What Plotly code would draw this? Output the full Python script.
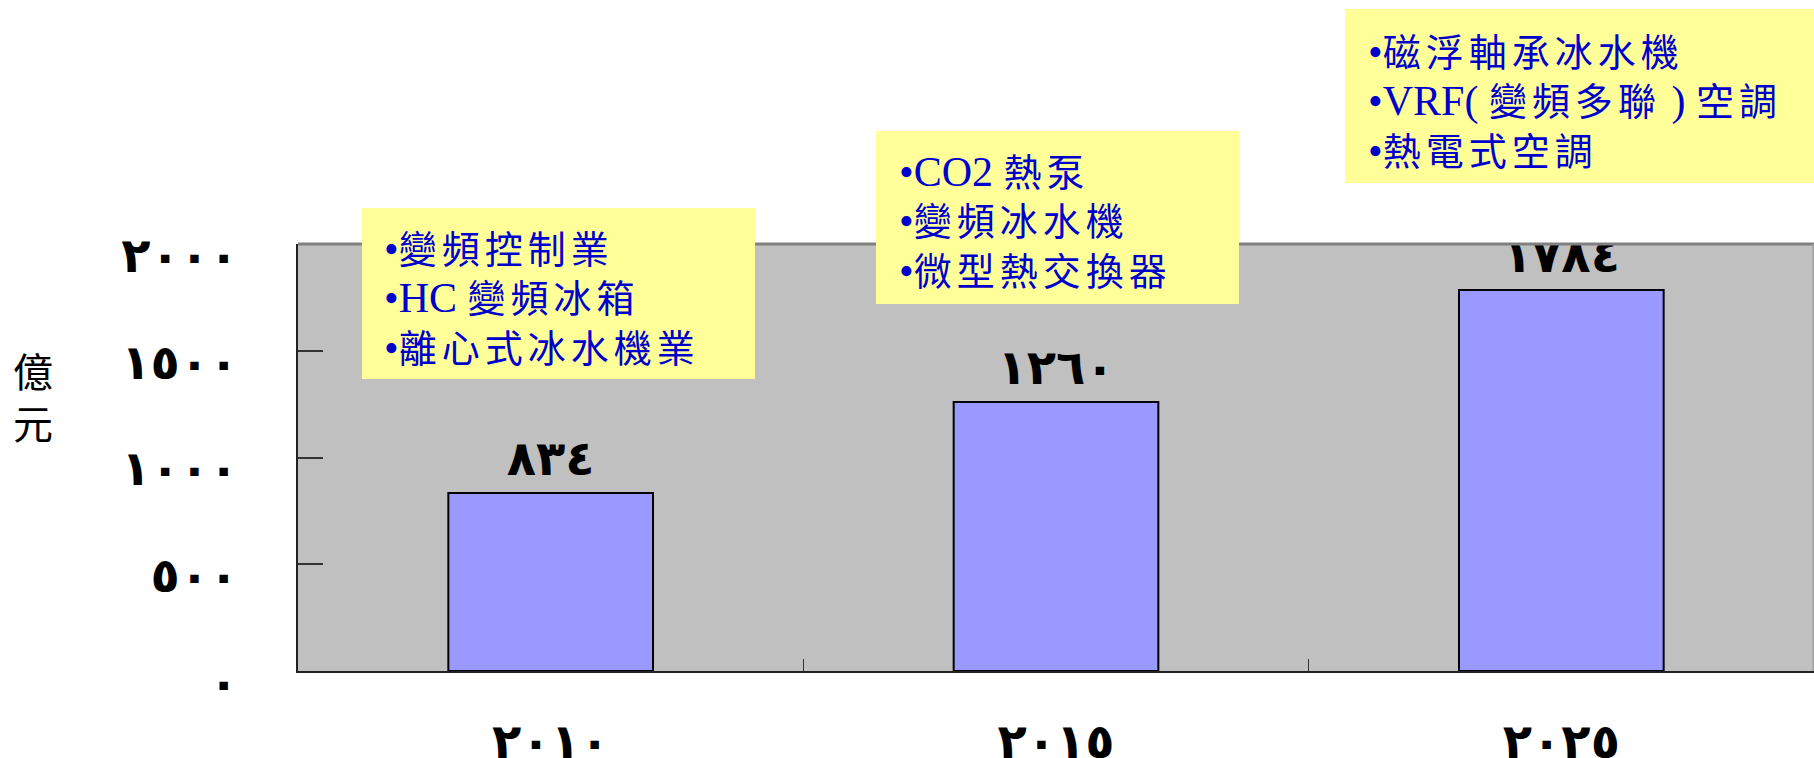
import plotly.graph_objects as go

# Market size (億元) by year, with the technologies highlighted for each period
years = ["2010", "2015", "2025"]
revenue = [834, 1260, 1784]
y_ticks = [0, 500, 1000, 1500, 2000]
notes_2010 = ["變頻控制業", "HC 變頻冰箱", "離心式冰水機業"]
notes_2015 = ["CO2 熱泵", "變頻冰水機", "微型熱交換器"]
notes_2025 = ["磁浮軸承冰水機", "VRF( 變頻多聯 ) 空調", "熱電式空調"]

W, H = 1814, 758
L, R, T, B = 298, 0, 244, 87
PW, PH = W - L - R, H - T - B

ARABIC = str.maketrans("0123456789", "٠١٢٣٤٥٦٧٨٩")


def ar(v):
    """Number written with Arabic-Indic digits."""
    return str(v).translate(ARABIC)


def fx(px):
    return (px - L) / PW


def fy(py):
    return (H - B - py) / PH


def note_line(s):
    """Bullet line: Latin runs in a larger serif, CJK runs letter-spaced."""
    s = "•" + s
    runs, cur, cur_latin = [], "", None
    for ch in s:
        latin = ord(ch) < 0x2E80
        if cur and latin != cur_latin:
            runs.append((cur, cur_latin))
            cur = ""
        cur += ch
        cur_latin = latin
    runs.append((cur, cur_latin))
    out = ""
    for txt, latin in runs:
        if latin:
            out += "<span style='font-size:42px;letter-spacing:0px'>" + txt + "</span>"
        else:
            out += "<span style='letter-spacing:5px'>" + txt + "</span>"
    return out


DIGIT_FONT = "DejaVu Sans"
DIGIT_SIZE = 48
NOTE_FONT = "Liberation Serif, 'Times New Roman', 'Noto Sans CJK TC', serif"
CJK_FONT = "'Noto Sans CJK TC', 'Noto Sans CJK SC', sans-serif"

fig = go.Figure()
fig.add_trace(go.Bar(
    x=years, y=revenue,
    marker=dict(color="#9999FF", line=dict(color="#000000", width=2)),
    hoverinfo="skip",
))
# value labels above the bars, clipped to the plotting area
fig.add_trace(go.Scatter(
    x=years, y=revenue,
    mode="markers+text",
    text=[ar(v) for v in revenue],
    textposition="top center",
    textfont=dict(family=DIGIT_FONT, size=DIGIT_SIZE, color="#000000", weight="bold"),
    marker=dict(size=8, opacity=0),
    cliponaxis=True,
    hoverinfo="skip",
))

fig.update_layout(
    width=W, height=H,
    margin=dict(l=L, r=R, t=T, b=B, pad=0),
    paper_bgcolor="#FFFFFF",
    plot_bgcolor="#C0C0C0",
    showlegend=False,
    bargap=0.595,
)
fig.update_xaxes(
    type="category",
    tickvals=years, ticktext=[ar(y) for y in years],
    ticks="inside", tickson="boundaries", ticklen=12, tickwidth=1, tickcolor="#333333",
    showline=True, linecolor="#222222", linewidth=2,
    showgrid=False, zeroline=False,
    tickfont=dict(family=DIGIT_FONT, size=DIGIT_SIZE, color="#000000", weight="bold"),
    ticklabelstandoff=27,
    automargin=False,
)
fig.update_yaxes(
    range=[0, 2000],
    tickvals=y_ticks, ticktext=[ar(v) for v in y_ticks],
    ticks="inside", ticklen=25, tickwidth=2, tickcolor="#333333",
    showline=True, linecolor="#222222", linewidth=2,
    showgrid=False, zeroline=False,
    tickfont=dict(family=DIGIT_FONT, size=DIGIT_SIZE, color="#000000", weight="bold"),
    ticklabelstandoff=48, ticklabelshift=11,
    automargin=False,
)

shapes = [
    # top and right frame of the plotting area
    dict(type="line", xref="paper", yref="paper", x0=0, x1=1, y0=1, y1=1,
         line=dict(color="#808080", width=3)),
    dict(type="line", xref="paper", yref="paper", x0=1, x1=1, y0=0, y1=1,
         line=dict(color="#A0A0A0", width=3)),
]

# yellow note boxes: (left, top, right, bottom) in pixels, text anchor
boxes = [
    ((362, 208, 755, 379), (382, 298), notes_2010),
    ((876, 131, 1239, 304), (897, 222), notes_2015),
    ((1345, 9, 1830, 183), (1366, 101), notes_2025),
]
annotations = []
for (x0, y0, x1, y1), (tx, ty), lines in boxes:
    shapes.append(dict(type="rect", xref="paper", yref="paper",
                       x0=fx(x0), x1=fx(x1), y0=fy(y1), y1=fy(y0),
                       fillcolor="#FFFF99", line=dict(width=0), layer="above"))
    annotations.append(dict(
        xref="paper", yref="paper", x=fx(tx), y=fy(ty),
        xanchor="left", yanchor="middle", align="left",
        text="<br>".join(note_line(s) for s in lines), showarrow=False,
        font=dict(family=NOTE_FONT, size=38, color="#0000CC"),
    ))

# unit label on the left
annotations.append(dict(
    xref="paper", yref="paper", x=fx(33), y=fy(396),
    xanchor="center", yanchor="middle",
    text="億<br>元", showarrow=False,
    font=dict(family=CJK_FONT, size=40, color="#000000"),
))

fig.update_layout(shapes=shapes, annotations=annotations)
fig.write_html("out.html")
